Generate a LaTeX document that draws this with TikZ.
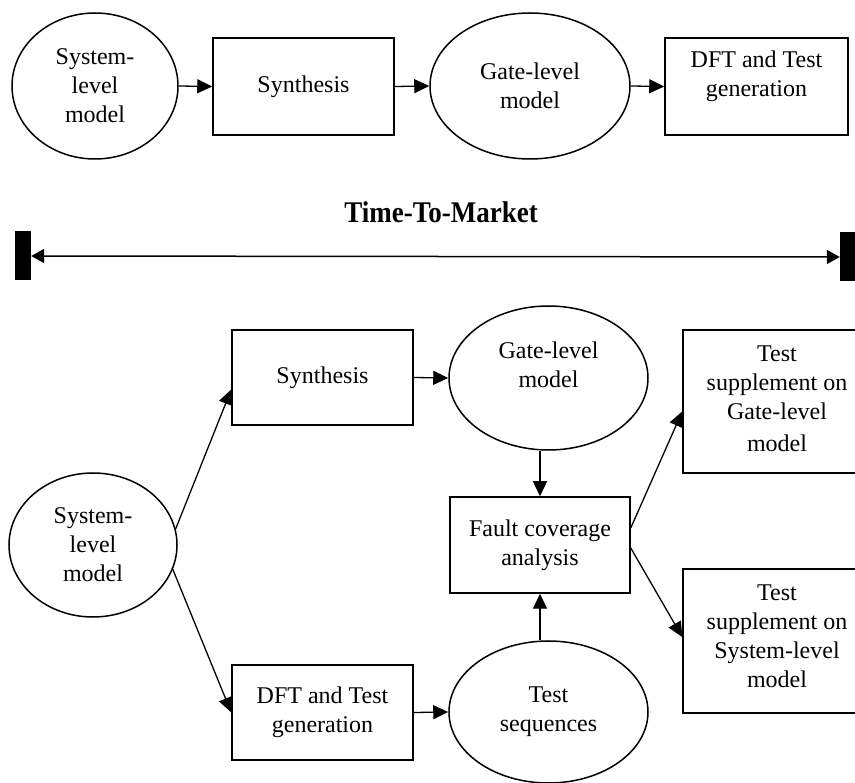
\documentclass[tikz,border=0pt]{standalone}
\usepackage{fontspec}
\setmainfont{Liberation Serif}
\usetikzlibrary{arrows.meta,shapes.geometric}
\begin{document}
\begin{tikzpicture}[x=1pt,y=-1pt,
  every node/.style={font=\fontsize{24}{29}\selectfont, align=center, inner sep=0pt},
  ell/.style={draw, ellipse, line width=1.5pt},
  box/.style={draw, rectangle, line width=1.5pt},
  bar/.style={fill=black, rectangle, minimum width=16, minimum height=49},
  arr/.style={line width=1.3pt, -{Triangle[length=15pt,width=14pt]}},
]
\useasboundingbox (0,0) rectangle (855,783);
% top row
\node[ell, minimum width=166, minimum height=146] (s1) at (95,86) {System-\\level\\model};
\node[box, minimum width=181, minimum height=97] (syn1) at (303.5,86.5) {Synthesis};
\node[ell, minimum width=200, minimum height=146] (g1) at (530,86) {Gate-level\\model};
\node[box, minimum width=183, minimum height=97] (d1) at (756.5,86.5) {};
\node (d1t) at (756.5,76) {DFT and Test\\generation};
\draw[arr] (s1.east) -- (syn1.west);
\draw[arr] (syn1.east) -- (g1.west);
\draw[arr] (g1.east) -- (d1.west);
% time to market
\node[font=\bfseries\fontsize{30}{34}\selectfont] (ttm) at (441,212) {\scalebox{0.9}[1]{Time-To-Market}};
\node[bar] (lb) at (23,256) {};
\node[bar] (rb) at (848,257) {};
\draw[line width=1.5pt, {Triangle[length=13pt,width=14pt]}-{Triangle[length=13pt,width=14pt]}] (lb.east) -- (rb.west);
% bottom
\node[ell, minimum width=168, minimum height=144] (s2) at (93,545) {System-\\level\\model};
\node[box, minimum width=181, minimum height=95] (syn2) at (322.5,377.5) {Synthesis};
\node[box, minimum width=181, minimum height=95] (d2) at (322.5,712.5) {DFT and Test\\generation};
\node[ell, minimum width=199, minimum height=144] (g2) at (548.5,378) {};
\node (g2t) at (548.5,365) {Gate-level\\model};
\node[box, minimum width=180, minimum height=96] (fca) at (540,545) {Fault coverage\\analysis};
\node[ell, minimum width=199, minimum height=142] (ts) at (548.5,712) {Test\\sequences};
\node[box, minimum width=188, minimum height=143] (tsg) at (777,401.5) {};
\node (tsgt) at (777,399) {Test\\supplement on\\Gate-level\\[3pt]model};
\node[box, minimum width=188, minimum height=144] (tss) at (777,641) {};
\node (tsst) at (777,636) {Test\\supplement on\\System-level\\model};
\draw[arr] (s2.11) -- ([yshift=-12pt]syn2.west);
\draw[arr] (s2.-17) -- (d2.west);
\draw[arr] (syn2.east) -- (g2.west);
\draw[arr] (d2.east) -- (ts.west);
\draw[arr] (fca.north |- g2.south) -- (fca.north);
\draw[arr] (fca.south |- ts.north) -- (fca.south);
\draw[arr] ([yshift=17pt]fca.east) -- ([yshift=-10pt]tsg.west);
\draw[arr] ([yshift=-3pt]fca.east) -- ([yshift=4pt]tss.west);
\end{tikzpicture}
\end{document}
